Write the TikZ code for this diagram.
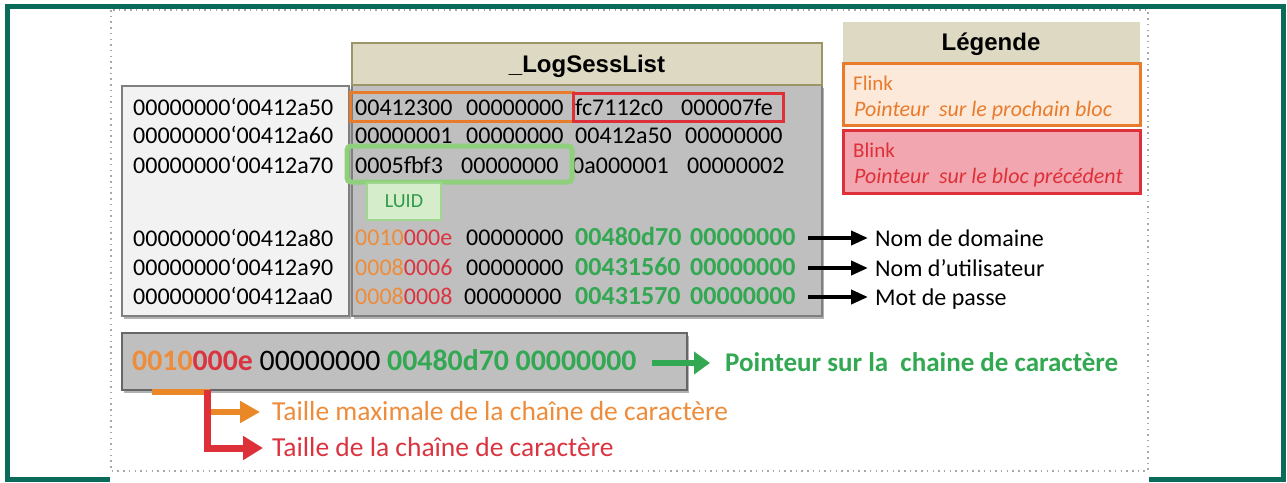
\documentclass[tikz,border=0pt]{standalone}
\usepackage{fontspec}
\setmainfont{Carlito}
\newfontfamily\headf{Liberation Sans}
\usetikzlibrary{arrows.meta,shadows}
\newcommand\bqt{\char96\relax}
\definecolor{frameT}{HTML}{0B6B5B}
\definecolor{tanF}{HTML}{DDD9C3}
\definecolor{tanD}{HTML}{9C956A}
\definecolor{grayF}{HTML}{BFBFBF}
\definecolor{grayD}{HTML}{7F7F7F}
\definecolor{addrF}{HTML}{F2F2F2}
\definecolor{oT}{HTML}{EE8C3A}
\definecolor{rT}{HTML}{DA3440}
\definecolor{gT}{HTML}{33A852}
\definecolor{oB}{HTML}{E87B2C}
\definecolor{rB}{HTML}{DE3038}
\definecolor{flF}{HTML}{FDE9D9}
\definecolor{blF}{HTML}{F2A6AF}
\definecolor{luidB}{HTML}{8ED07C}
\definecolor{luidF}{HTML}{D5EDCB}
\definecolor{luidT}{HTML}{2E9A48}
\definecolor{dotC}{HTML}{A8A8A8}
\tikzset{
  box/.style={anchor=north west, inner sep=0pt, outer sep=0pt},
  shad/.style={drop shadow={shadow xshift=2pt, shadow yshift=-3pt, opacity=0.3, fill=black}},
  txt/.style={anchor=base west, inner sep=0pt, font=\fontsize{24}{28}\selectfont},
  gtxt/.style={anchor=base west, inner sep=0pt, text=gT, font=\fontsize{26}{28}\selectfont\bfseries},
  lbl/.style={anchor=west, inner sep=0pt, text height=17pt, text depth=0pt, font=\fontsize{24}{28}\selectfont},
  blkarrow/.style={line width=4pt, -{Triangle[length=17pt,width=14pt]}, shorten >=7pt},
}
\begin{document}
\begin{tikzpicture}[x=1pt,y=-1pt]
\useasboundingbox (0,0) rectangle (1287,482);
\fill[white] (0,0) rectangle (1287,482);
% outer frame
\draw[frameT, line width=5pt] (7,6.5) rectangle (1283,479.5);
\fill[white] (110,472) rectangle (1149,483);
\draw[dotC, line width=1.5pt, dash pattern=on 1.5pt off 4.2pt] (111,10) rectangle (1148,471);

% address box
\node[box, shad, fill=addrF, draw=grayD, line width=1.5pt, minimum width=227pt, minimum height=230pt] (addrbox) at (122,86) {};
\node[txt] (ad1) at (133,115) {00000000\bqt00412a50};
\node[txt] (ad2) at (133,143) {00000000\bqt00412a60};
\node[txt] (ad3) at (133,173) {00000000\bqt00412a70};
\node[txt] (ad4) at (133,246) {00000000\bqt00412a80};
\node[txt] (ad5) at (133,275) {00000000\bqt00412a90};
\node[txt] (ad6) at (133,304) {00000000\bqt00412aa0};

% structure body
\node[box, shad, fill=grayF, draw=grayD, line width=1.5pt, minimum width=470pt, minimum height=231pt] (body) at (352,85) {};
\node[box, fill=tanF, draw=tanD, line width=2pt, minimum width=470pt, minimum height=42pt] (hdr) at (352,43) {};
\node[inner sep=0pt, text height=17pt, text depth=0pt, font=\headf\bfseries\fontsize{24}{28}\selectfont] (hdrt) at (587,64) {\_LogSessList};

% rows
\node[txt] (c11) at (355,115) {00412300};
\node[txt] (c12) at (466,115) {00000000};
\node[txt] (c13) at (575,115) {fc7112c0};
\node[txt] (c14) at (681,115) {000007fe};
\node[txt] (c21) at (355,143) {00000001};
\node[txt] (c22) at (466,143) {00000000};
\node[txt] (c23) at (575,143) {00412a50};
\node[txt] (c24) at (685,143) {00000000};
\node[txt] (c31) at (355,173) {0005fbf3};
\node[txt] (c32) at (461,173) {00000000};
\node[txt] (c33) at (572,173) {0a000001};
\node[txt] (c34) at (687,173) {00000002};
\node[txt] (c41) at (355,245) {\textcolor{oT}{0010}\textcolor{rT}{000e}};
\node[txt] (c42) at (466,245) {00000000};
\node[gtxt] (c43) at (575,245) {00480d70};
\node[gtxt] (c44) at (690,245) {00000000};
\node[txt] (c51) at (355,275) {\textcolor{oT}{0008}\textcolor{rT}{0006}};
\node[txt] (c52) at (466,275) {00000000};
\node[gtxt] (c53) at (575,275) {00431560};
\node[gtxt] (c54) at (690,275) {00000000};
\node[txt] (c61) at (355,304) {\textcolor{oT}{0008}\textcolor{rT}{0008}};
\node[txt] (c62) at (464,304) {00000000};
\node[gtxt] (c63) at (575,304) {00431570};
\node[gtxt] (c64) at (690,304) {00000000};

% highlights
\node[box, draw=oB, line width=3pt, minimum width=223pt, minimum height=29pt] (hfl) at (350,92) {};
\node[box, draw=rB, line width=3pt, minimum width=210pt, minimum height=28pt] (hbl) at (573,93) {};
\node[box, draw=luidB, line width=5pt, rounded corners=4pt, minimum width=225pt, minimum height=36pt] (hluid) at (347,146) {};
\node[box, fill=luidF, draw=luidB!85!white, line width=2.5pt, minimum width=74pt, minimum height=37pt] (luidbox) at (367,183) {};
\node[inner sep=0pt, text=luidT, font=\fontsize{20}{24}\selectfont] (luid) at (luidbox.center) {LUID};

% right labels
\coordinate (a4) at (808,238);
\coordinate (a5) at (808,268);
\coordinate (a6) at (808,297);
\node[lbl] (nd) at (875,238) {Nom de domaine};
\node[lbl] (nu) at (875,268) {Nom d’utilisateur};
\node[lbl] (mp) at (875,297) {Mot de passe};
\draw[blkarrow] (a4) -- (nd);
\draw[blkarrow] (a5) -- (nu);
\draw[blkarrow] (a6) -- (mp);

% legend
\node[box, fill=tanF, minimum width=297pt, minimum height=40pt] (leg) at (843,22) {};
\node[inner sep=0pt, text height=17pt, text depth=0pt, font=\headf\bfseries\fontsize{24}{28}\selectfont] (legt) at (991,42) {Légende};
\node[box, fill=flF, draw=oB, line width=3pt, minimum width=297pt, minimum height=62pt] (flk) at (843,63) {};
\node[box, fill=blF, draw=rB, line width=3pt, minimum width=297pt, minimum height=63pt] (blk) at (843,130) {};
\node[anchor=base west, inner sep=0pt, text=oB, font=\fontsize{21}{24}\selectfont] (flt) at (853,90) {Flink};
\node[anchor=base west, inner sep=0pt, text=oB, font=\fontsize{22}{24}\selectfont\itshape] (fld) at (854,116) {Pointeur\ \ sur le prochain bloc};
\node[anchor=base west, inner sep=0pt, text=rB, font=\fontsize{21}{24}\selectfont] (blt) at (853,157) {Blink};
\node[anchor=base west, inner sep=0pt, text=rB, font=\fontsize{22}{24}\selectfont\itshape] (bld) at (854,183) {Pointeur\ \ sur le bloc précédent};

% bottom detail box
\node[box, shad, fill=grayF, draw=black!60, line width=1.5pt, minimum width=565pt, minimum height=57pt] (bbox) at (122,333) {};
\node[anchor=base west, inner sep=0pt, font=\fontsize{29.8}{32}\selectfont] (btxt) at (132,370)
  {\textbf{\textcolor{oT}{0010}\textcolor{rT}{000e}} 00000000 \textbf{\textcolor{gT}{00480d70 00000000}}};
\coordinate (gs) at (652,363);
\node[lbl, text=gT, font=\fontsize{27}{30}\selectfont\bfseries] (pch) at (725,363) {Pointeur sur la\ \ chaine de caractère};
\draw[gT, line width=6pt, -{Triangle[length=16pt,width=22pt]}, shorten >=15pt] (gs) -- (pch);

\coordinate (ob0) at (152,392);
\coordinate (obk) at (207,392);
\coordinate (rb0) at (207,390);
\node[lbl, text height=16pt, text=oT, font=\fontsize{27.5}{30}\selectfont] (tmax) at (272,412) {Taille maximale de la chaîne de caractère};
\node[lbl, text height=16pt, text=rT, font=\fontsize{27.5}{30}\selectfont] (tsz) at (272,448) {Taille de la chaîne de caractère};
\draw[oB!90!yellow, line width=6.5pt, -{Triangle[length=20pt,width=21pt]}, shorten >=12pt] (ob0) -- (obk) |- (tmax);
\draw[rB, line width=7pt, -{Triangle[length=20pt,width=23pt]}, shorten >=9pt] (rb0) |- (tsz);
\end{tikzpicture}
\end{document}
